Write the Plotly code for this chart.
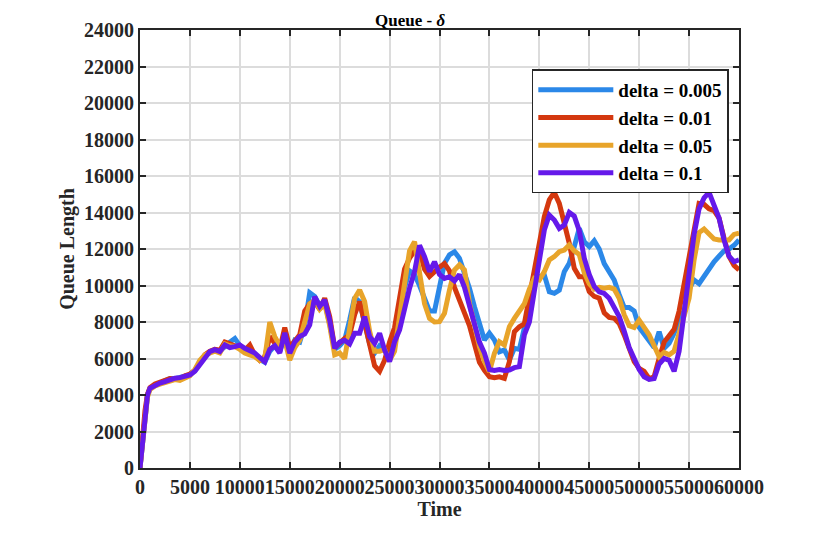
import plotly.graph_objects as go

# time grid (finer at the very start where the queue ramps up)
T = [0, 250, 500, 750] + list(range(1000, 60001, 500))

q_005 = [
    0, 1600, 3100, 4000, 4350, 4550, 4650, 4800, 4900, 4900,
    4950, 5000, 5100, 5350, 5750, 6100, 6350, 6500, 6400, 6700,
    6900, 7100, 6700, 6500, 6400, 6250, 5950, 5800, 6400, 6700,
    6400, 7300, 6400, 7000, 6900, 7800, 9600, 9400, 8900, 9100,
    7900, 6500, 6700, 7010, 8110, 9350, 9100, 7800, 6800, 6300,
    6700, 6500, 6370, 6900, 8500, 9900, 10800, 10600, 10000, 9300,
    8600, 8600, 9940, 11220, 11680, 11850, 11490, 10690, 9850, 8840,
    7920, 7010, 7380, 7010, 6370, 6470, 5920, 6560, 6500, 7600,
    8840, 10300, 10480, 10570, 9660, 9570, 9750, 10760, 11220, 12130,
    13130, 12400, 12130, 12450, 12000, 11200, 10700, 10300, 9500, 8800,
    8800, 8600, 7700, 7300, 6950, 6600, 7470, 6560, 6830, 7380,
    8100, 8600, 9800, 10300, 10100, 10500, 11000, 11300, 11600, 11900,
    12000, 12200, 12490,
]

q_01 = [
    0, 1650, 3150, 4050, 4400, 4600, 4700, 4800, 4900, 4850,
    4900, 5050, 5150, 5350, 5800, 6200, 6400, 6500, 6450, 6900,
    6800, 6700, 6600, 6450, 6740, 6200, 5900, 6100, 7200, 6800,
    6500, 7700, 6600, 6950, 7300, 8600, 9000, 9100, 8700, 9300,
    8300, 6600, 6900, 7100, 7300, 8400, 9120, 7900, 6600, 5600,
    5300, 5900, 6900, 7700, 9300, 10900, 11500, 11900, 11900, 10900,
    10500, 10800, 11000, 11200, 10800, 9900, 9100, 8500, 7800, 6900,
    5800, 5350, 5000, 4950, 5000, 4910, 5830, 7470, 7740, 7900,
    9300, 10900, 12310, 13780, 14690, 15100, 14500, 13410, 12310, 10940,
    10480, 10480, 9660, 9400, 9300, 8500, 8250, 8200, 7920, 7290,
    6560, 5830, 5460, 5300, 4900, 5000, 6000, 6900, 7250, 7600,
    8600, 10100, 11700, 13300, 14500, 14450, 14200, 14100, 13700, 12600,
    11600, 11100, 10850,
]

q_05 = [
    0, 1550, 3000, 3900, 4300, 4500, 4600, 4700, 4800, 4850,
    4800, 4900, 5050, 5400, 5900, 6200, 6300, 6400, 6300, 6800,
    6700, 6650, 6500, 6300, 6200, 6100, 5900, 6000, 8000, 7200,
    6700, 7000, 5910, 6600, 7000, 8000, 9000, 9200, 8700, 9000,
    7800, 6200, 6300, 6000, 7500, 9300, 9750, 9120, 7500, 6400,
    6400, 6500, 5900, 6400, 8300, 10300, 11900, 12400, 10600, 9000,
    8200, 8000, 8020, 8480, 9750, 10850, 11130, 10850, 9030, 7740,
    6650, 5830, 5280, 6280, 6920, 6740, 7740, 8200, 8550, 9000,
    9800, 10390, 10300, 10760, 11400, 11580, 11850, 11940, 12220, 11900,
    11700, 10700, 10100, 9800, 9900, 9850, 9900, 9800, 9300, 8400,
    7800, 7700, 8100, 7700, 7300, 6700, 6100, 6330, 6200, 6400,
    7300, 8200, 9300, 11400, 12900, 13100, 12800, 12550, 12500, 12500,
    12500, 12800, 12860,
]

q_1 = [
    0, 1600, 3100, 4000, 4370, 4550, 4650, 4730, 4850, 4920,
    4950, 5000, 5100, 5300, 5700, 6010, 6380, 6480, 6380, 6740,
    6600, 6650, 6740, 6560, 6450, 6300, 6050, 5830, 6500, 6700,
    6300, 7400, 6290, 6900, 7200, 7350, 7840, 9390, 8860, 9210,
    8110, 6560, 6900, 7000, 6800, 7380, 7380, 8290, 7200, 6830,
    7380, 6470, 5830, 6920, 7560, 8840, 9850, 10760, 12200, 11580,
    10760, 11300, 10600, 10390, 10480, 10250, 10600, 9900, 8900, 7900,
    6900, 6300, 5400, 5350, 5400, 5350, 5370, 5500, 5550, 7300,
    8000, 9700, 11580, 13040, 13860, 13590, 13130, 13310, 14000, 13800,
    13000, 11500, 10600, 9950, 9650, 9570, 9300, 8800, 8300, 7500,
    6600, 6000, 5400, 5000, 4850, 4900, 5700, 6000, 5900, 5300,
    6400, 8500, 10800, 12800, 14200, 14800, 15100, 14300, 13700, 12500,
    11600, 11300, 11400,
]

names = ["delta = 0.005", "delta = 0.01", "delta = 0.05", "delta = 0.1"]
colors = ["#2b88e8", "#d4380f", "#e8a42a", "#6519ea"]
series = [q_005, q_01, q_05, q_1]

fig = go.Figure()
for name, col, ys in zip(names, colors, series):
    fig.add_trace(go.Scatter(x=T, y=ys, mode="lines", name=name,
                             line=dict(color=col, width=5)))

serif = "Liberation Serif"
axis_style = dict(
    showline=True, linecolor="#262626", linewidth=2, mirror="ticks",
    ticks="inside", ticklen=6, tickwidth=2, tickcolor="#262626",
    showgrid=True, gridcolor="#dcdcdc", gridwidth=1.5,
    zeroline=False, automargin=False, tickangle=0,
    tickfont=dict(family=serif, size=20, color="#262626", weight="bold"),
)

fig.update_xaxes(axis_style, range=[0, 60000], tickvals=list(range(0, 60001, 5000)),
                 tickformat="d",
                 title=dict(text="<b>Time</b>", standoff=0,
                            font=dict(family=serif, size=20, color="#262626")))
fig.update_yaxes(axis_style, range=[0, 24000], tickvals=list(range(0, 24001, 2000)),
                 tickformat="d",
                 title=dict(text="<b>Queue Length</b>", standoff=4,
                            font=dict(family=serif, size=20, color="#262626")))

fig.update_layout(
    width=829, height=535,
    margin=dict(l=132, r=98, t=22, b=75),
    paper_bgcolor="white", plot_bgcolor="white",
    font=dict(family=serif, size=18, color="#262626", weight="bold"),
    title=dict(text="<b>Queue - <i>δ</i></b>", x=0.485, xanchor="center",
               yref="container", y=0.988, yanchor="top",
               font=dict(size=17, color="black")),
    legend=dict(x=0.983, y=0.91, xanchor="right", yanchor="top",
                bgcolor="white", bordercolor="#262626", borderwidth=1.5,
                font=dict(family=serif, size=19, color="black", weight="bold"),
                itemwidth=75, tracegroupgap=0),
    showlegend=True,
)

fig.write_html("out.html")
